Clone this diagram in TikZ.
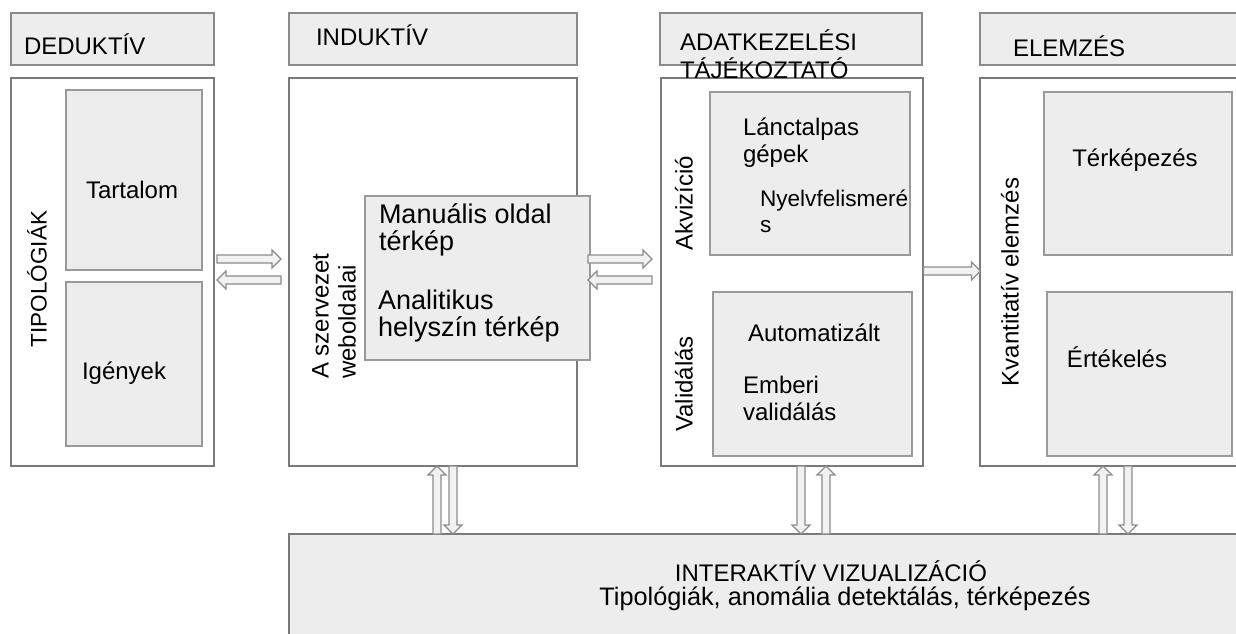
\documentclass[tikz,border=0pt]{standalone}
\usepackage{fontspec}
\setmainfont{Liberation Sans}
\usetikzlibrary{calc}
\definecolor{fillg}{HTML}{EDEDED}
\definecolor{edgeg}{HTML}{7A7A7A}
\definecolor{hedge}{HTML}{8A8A8A}
\definecolor{inedge}{HTML}{9A9A9A}
\definecolor{arrg}{HTML}{8C8C8C}
\definecolor{arrf}{HTML}{F2F2F2}
\begin{document}
\begin{tikzpicture}[x=1pt,y=-1pt,
  every node/.style={inner sep=0pt,outer sep=0pt,font=\fontsize{24}{27}\selectfont},
  hdr/.style={draw=hedge,fill=fillg,line width=1.6pt},
  mainbox/.style={draw=edgeg,fill=white,line width=1.8pt},
  inbox/.style={draw=inedge,fill=fillg,line width=1.6pt},
  txt/.style={anchor=west,align=left},
  vtxt/.style={rotate=90,align=left},
  arrstyle/.style={draw=arrg,fill=arrf,line width=1.3pt,line join=miter},
  barr/.pic={\draw[arrstyle] (-#1/2,-4) -- (#1/2-9,-4) -- (#1/2-9,-9) -- (#1/2,0)
      -- (#1/2-9,9) -- (#1/2-9,4) -- (-#1/2,4) -- cycle;},
  big/.style={font=\fontsize{27}{26.5}\selectfont}
]
\useasboundingbox (0,0) rectangle (1236,633);
% ---- headers
\draw[hdr] (11,13) rectangle (214,65);   \node (h1) at (112,39) {};
\draw[hdr] (289,13) rectangle (577,65);  \node (h2) at (433,39) {};
\draw[hdr] (660,13) rectangle (922,65);  \node (h3) at (791,39) {};
\draw[hdr] (980,13) rectangle (1245,65); \node (h4) at (1110,39) {};
% ---- main boxes
\draw[mainbox] (11,78) rectangle (214,466);   \node (m1) at (112,272) {};
\draw[mainbox] (289,78) rectangle (577,466);  \node (m2) at (433,272) {};
\draw[mainbox] (661,78) rectangle (923,466);  \node (m3) at (792,272) {};
\draw[mainbox] (980,78) rectangle (1245,466); \node (m4) at (1110,272) {};
% ---- bottom box
\draw[hdr,draw=edgeg] (289,534) rectangle (1245,645); \node (vb) at (760,590) {};
% ---- inner boxes
\draw[inbox] (66,90) rectangle (202,270);
\draw[inbox] (66,282) rectangle (202,446);
\draw[inbox] (365,196) rectangle (590,360);
\draw[inbox] (710,92) rectangle (910,255);
\draw[inbox] (713,292) rectangle (912,456);
\draw[inbox] (1044,92) rectangle (1232,255);
\draw[inbox] (1047,292) rectangle (1232,456);
% ---- header texts
\node[txt] (t1) at (24,44) {DEDUKTÍV};
\node[txt] (t2) at (316,35) {INDUKTÍV};
\node[txt] (t3) at (680,40) {ADATKEZELÉSI};
\node[txt] (t3b) at (680,68) {TÁJÉKOZTATÓ};
\node[txt] (t4) at (1013,46) {ELEMZÉS};
% ---- column 1
\node[vtxt,font=\fontsize{22.5}{26}\selectfont] (tip) at (37,279) {TIPOLÓGIÁK};
\node[txt] (tart) at (86,190) {Tartalom};
\node[txt] (igeny) at (82,373) {Igények};
% ---- column 2
\node[vtxt] (szerv) at (334,316) {A szervezet\\weboldalai};
\node[txt,big] (man) at (379,230) {Manuális oldal\\térkép};
\node[txt,big] (anal) at (378,316) {Analitikus\\helyszín térkép};
% ---- column 3
\node[vtxt] (akv) at (684,203) {Akvizíció};
\node[txt] (lanc) at (743,143) {Lánctalpas\\gépek};
\node[txt,font=\fontsize{22.6}{26}\selectfont] (nyelv) at (760,211) {Nyelvfelismeré\\s};
\node[vtxt] (val) at (684,384) {Validálás};
\node[txt] (auto) at (748,333) {Automatizált};
\node[txt] (ember) at (743,398) {Emberi\\validálás};
% ---- column 4
\node[vtxt] (kvant) at (1010,282) {Kvantitatív elemzés};
\node (terk) at (1135,160) {Térképezés};
\node (ert) at (1117,357) {Értékelés};
% ---- bottom texts
\node (inter) at (831,571) {INTERAKTÍV VIZUALIZÁCIÓ};
\node[font=\fontsize{25.3}{28}\selectfont] (tipo) at (845,599) {Tipológiák, anomália detektálás, térképezés};
% ---- horizontal arrows
\pic at (249,259) {barr=64};
\pic[rotate=180] at (249,280) {barr=64};
\pic at (620,259) {barr=64};
\pic[rotate=180] at (620,280) {barr=64};
\pic at (952,271) {barr=57};
% ---- vertical arrows
\pic[rotate=90] at (437,500) {barr=68};
\pic[rotate=-90] at (453,500) {barr=68};
\pic[rotate=-90] at (801,500) {barr=68};
\pic[rotate=90] at (826,500) {barr=68};
\pic[rotate=90] at (1103,500) {barr=68};
\pic[rotate=-90] at (1128,500) {barr=68};
\end{tikzpicture}
\end{document}
